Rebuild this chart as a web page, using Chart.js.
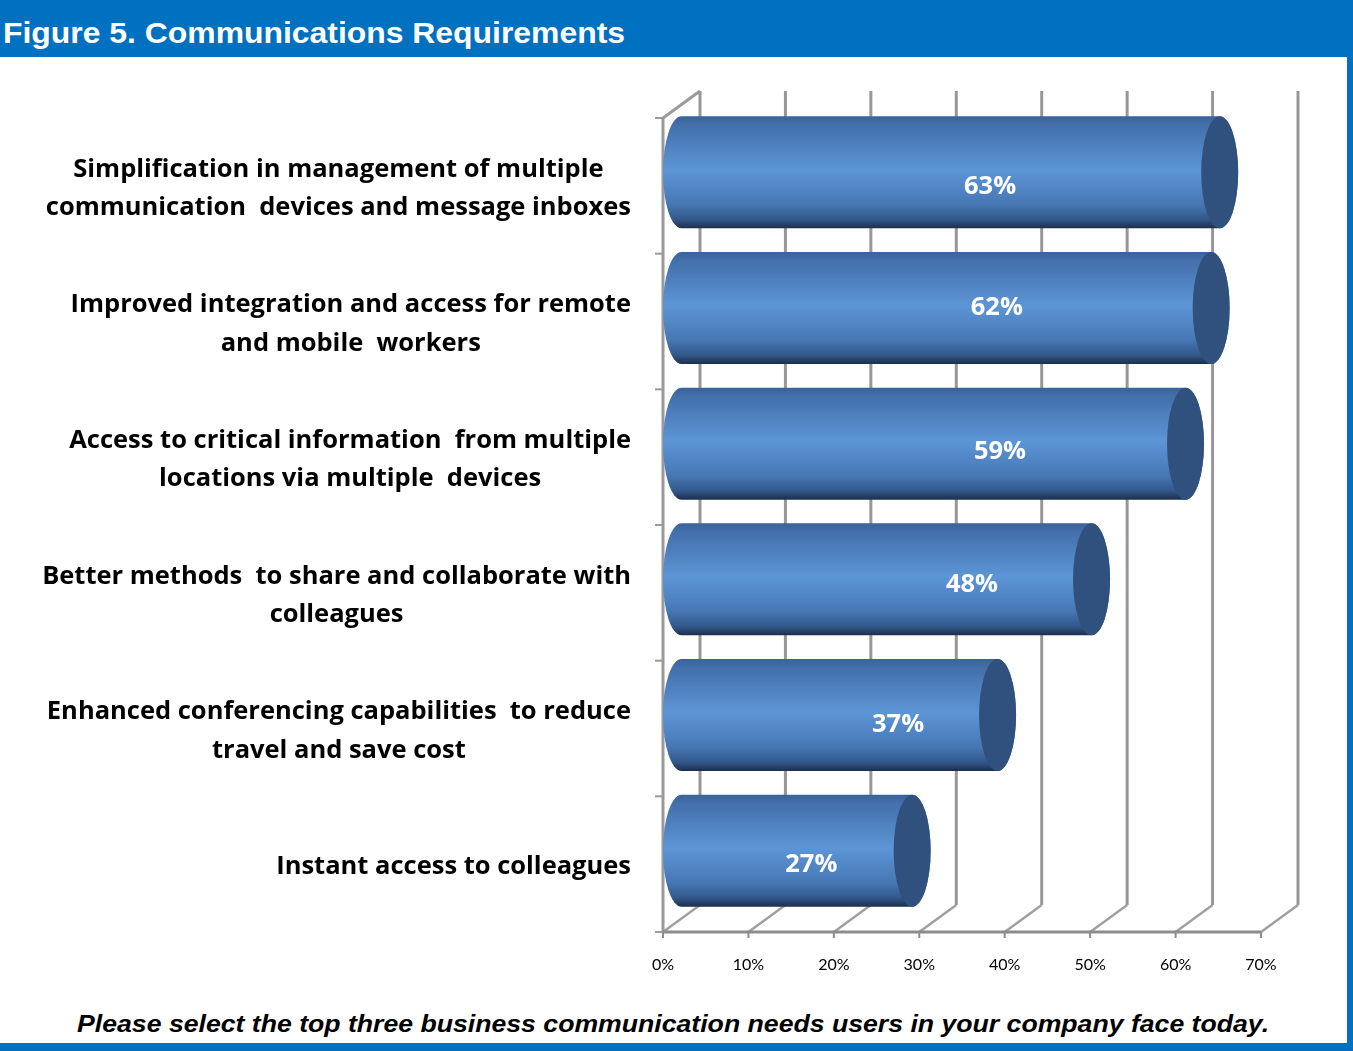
<!DOCTYPE html>
<html>
<head>
<meta charset="utf-8">
<title>Figure 5. Communications Requirements</title>
<script src="https://cdn.jsdelivr.net/npm/chart.js@4.4.1/dist/chart.umd.min.js"></script>
<style>
  html, body { margin: 0; padding: 0; background: #fff; }
  #page { position: relative; width: 1353px; height: 1051px; overflow: hidden; background: #fff; }
  #header { position: absolute; left: 0; top: 0; width: 1353px; height: 57px; background: #0070c0; }
  #header h1 {
    margin: 0; position: absolute; left: 3px; top: 18px;
    font: bold 30px "Liberation Sans", Arial, sans-serif; line-height: 1;
    color: #fff; white-space: nowrap; transform-origin: 0 0;
  }
  #rightEdge { position: absolute; left: 1347px; top: 0; width: 6px; height: 1051px; background: #0070c0; }
  #bottomEdge { position: absolute; left: 0; top: 1043px; width: 1353px; height: 8px; background: #0070c0; }
  #chartBox { position: absolute; left: 0; top: 57px; width: 1347px; height: 930px; }
  #note {
    position: absolute; left: 0; top: 1012px; width: 1347px; text-align: center;
    font: italic bold 24px "Liberation Sans", Arial, sans-serif; line-height: 1;
    color: #000; white-space: nowrap;
  }
</style>
</head>
<body>
<div id="page">
  <div id="header"><h1 id="title">Figure 5. Communications Requirements</h1></div>
  <div id="chartBox"><canvas id="reqChart"></canvas></div>
  <div id="note"><span id="noteText">Please select the top three business communication needs users in your company face today.</span></div>
  <div id="rightEdge"></div>
  <div id="bottomEdge"></div>
</div>

<script>
// Survey answers, top to bottom
const categories = [
  ['Simplification in management of multiple', 'communication  devices and message inboxes'],
  ['Improved integration and access for remote', 'and mobile  workers'],
  ['Access to critical information  from multiple', 'locations via multiple  devices'],
  ['Better methods  to share and collaborate with', 'colleagues'],
  ['Enhanced conferencing capabilities  to reduce', 'travel and save cost'],
  ['Instant access to colleagues']
];
const shares = [63, 62, 59, 48, 37, 27];
const axisTicks = [0, 10, 20, 30, 40, 50, 60, 70];

const LABEL_FONT = 'bold 25.5px "Open Sans", Lato, sans-serif';

// fake 3D box: back wall, floor and left wall
const wallPlugin = {
  id: 'wall3d',
  beforeDatasetsDraw(chart, args, opts) {
    const { ctx, chartArea: a, scales: { x, y } } = chart;
    const dx = opts.dx, dy = opts.dy;
    ctx.save();
    ctx.lineCap = 'butt';

    // back wall gridlines
    ctx.strokeStyle = '#979797';
    ctx.lineWidth = 3;
    axisTicks.forEach(t => {
      const px = x.getPixelForValue(t) + dx;
      ctx.beginPath();
      ctx.moveTo(px, a.top + dy);
      ctx.lineTo(px, a.bottom + dy);
      ctx.stroke();
    });

    // floor diagonals
    ctx.lineWidth = 2.5;
    ctx.strokeStyle = '#a0a0a0';
    axisTicks.forEach(t => {
      const px = x.getPixelForValue(t);
      ctx.beginPath();
      ctx.moveTo(px, a.bottom);
      ctx.lineTo(px + dx, a.bottom + dy);
      ctx.stroke();
    });

    // left wall
    ctx.strokeStyle = '#9a9a9a';
    ctx.lineWidth = 3;
    ctx.beginPath();
    ctx.moveTo(a.left, a.bottom);
    ctx.lineTo(a.left, a.top);
    ctx.lineTo(a.left + dx, a.top + dy);
    ctx.stroke();

    // category boundary ticks
    ctx.lineWidth = 2;
    const band = (a.bottom - a.top) / categories.length;
    for (let i = 0; i <= categories.length; i++) {
      const py = a.top + i * band;
      ctx.beginPath();
      ctx.moveTo(a.left - 8, py);
      ctx.lineTo(a.left, py);
      ctx.stroke();
    }

    // front floor edge and value ticks
    ctx.strokeStyle = '#8c8c8c';
    ctx.lineWidth = 3;
    ctx.beginPath();
    ctx.moveTo(a.left, a.bottom);
    ctx.lineTo(x.getPixelForValue(70), a.bottom);
    ctx.stroke();
    ctx.lineWidth = 2;
    axisTicks.forEach(t => {
      const px = x.getPixelForValue(t);
      ctx.beginPath();
      ctx.moveTo(px, a.bottom);
      ctx.lineTo(px, a.bottom + 6);
      ctx.stroke();
    });
    ctx.restore();
  }
};

// cylinders drawn over the (transparent) bar elements
const cylinderPlugin = {
  id: 'cylinders',
  afterDatasetsDraw(chart, args, opts) {
    const { ctx } = chart;
    const meta = chart.getDatasetMeta(0);
    const dx = opts.dx, dy = opts.dy;
    const rx = dx / 2;
    ctx.save();
    meta.data.forEach((el, i) => {
      const h = el.height;
      const cy = el.y + dy / 2;
      const top = cy - h / 2, bot = cy + h / 2;
      const x0 = el.base + rx;
      const x1 = el.x + rx;

      const g = ctx.createLinearGradient(0, top, 0, bot);
      g.addColorStop(0, '#3a629b');
      g.addColorStop(0.08, '#4470ab');
      g.addColorStop(0.48, '#5c95d6');
      g.addColorStop(0.78, '#4778b5');
      g.addColorStop(0.92, '#33588b');
      g.addColorStop(1, '#1c2f4d');

      ctx.beginPath();
      ctx.ellipse(x0, cy, rx, h / 2, 0, -Math.PI / 2, Math.PI / 2, true);
      ctx.lineTo(x1, bot);
      ctx.ellipse(x1, cy, rx, h / 2, 0, Math.PI / 2, -Math.PI / 2, true);
      ctx.closePath();
      ctx.fillStyle = g;
      ctx.fill();

      // end cap
      ctx.beginPath();
      ctx.ellipse(x1, cy, rx, h / 2, 0, 0, Math.PI * 2);
      ctx.fillStyle = '#30517d';
      ctx.fill();

      // value label
      const nudge = opts.labelNudge[i] || [0, 0];
      ctx.font = LABEL_FONT;
      ctx.fillStyle = '#ffffff';
      ctx.textAlign = 'center';
      ctx.textBaseline = 'middle';
      ctx.fillText(shares[i] + '%', (el.base + el.x) / 2 + nudge[0], el.y + nudge[1]);
    });
    ctx.restore();
  }
};

// multi-line category names, right aligned as a block, lines centred
const categoryPlugin = {
  id: 'categoryNames',
  afterDraw(chart, args, opts) {
    const { ctx, scales: { y } } = chart;
    ctx.save();
    ctx.font = LABEL_FONT;
    ctx.fillStyle = '#000';
    ctx.textAlign = 'center';
    ctx.textBaseline = 'alphabetic';
    categories.forEach((lines, i) => {
      const widths = lines.map(l => ctx.measureText(l).width);
      const blockW = Math.max(...widths);
      const cx = opts.right - blockW / 2;
      const mid = y.getPixelForValue(i) + opts.shift;
      lines.forEach((l, j) => {
        const by = mid + (j - (lines.length - 1) / 2) * opts.lineHeight;
        ctx.fillText(l, cx, by);
      });
    });
    ctx.restore();
  }
};

new Chart(document.getElementById('reqChart'), {
  type: 'bar',
  data: {
    labels: categories,
    datasets: [{
      data: shares,
      backgroundColor: 'rgba(0,0,0,0)',
      borderWidth: 0,
      barPercentage: 0.826,
      categoryPercentage: 1
    }]
  },
  options: {
    indexAxis: 'y',
    responsive: true,
    maintainAspectRatio: false,
    animation: false,
    events: [],
    layout: { padding: { top: 61, right: 86, left: 0, bottom: 0 } },
    plugins: {
      legend: { display: false },
      tooltip: { enabled: false },
      wall3d: { dx: 37, dy: -27 },
      cylinders: {
        dx: 37, dy: -27,
        labelNudge: [[58, 1], [69, -14], [85, -5], [104, -8], [77, -4], [33, 1]]
      },
      categoryNames: { right: 631, shift: 10, lineHeight: 38.5 }
    },
    scales: {
      x: {
        min: 0,
        max: 70,
        afterFit(scale) { scale.height = 55; },
        afterBuildTicks(scale) { scale.ticks = axisTicks.map(v => ({ value: v })); },
        grid: { display: false, drawTicks: false },
        border: { display: false },
        ticks: {
          padding: 23,
          color: '#000',
          font: { family: 'Lato, "Open Sans", sans-serif', size: 16 },
          maxRotation: 0,
          callback: v => v + '%'
        }
      },
      y: {
        afterFit(scale) { scale.width = 663; },
        grid: { display: false, drawTicks: false },
        border: { display: false },
        ticks: { display: false }
      }
    }
  },
  plugins: [wallPlugin, cylinderPlugin, categoryPlugin]
});

// stretch the title and footnote to their set widths
function fitWidth(el, target) {
  el.style.display = 'inline-block';
  const w = el.getBoundingClientRect().width;
  el.style.transform = 'scaleX(' + (target / w) + ')';
}
const title = document.getElementById('title');
fitWidth(title, 622);
fitWidth(document.getElementById('noteText'), 1192);
</script>
</body>
</html>
